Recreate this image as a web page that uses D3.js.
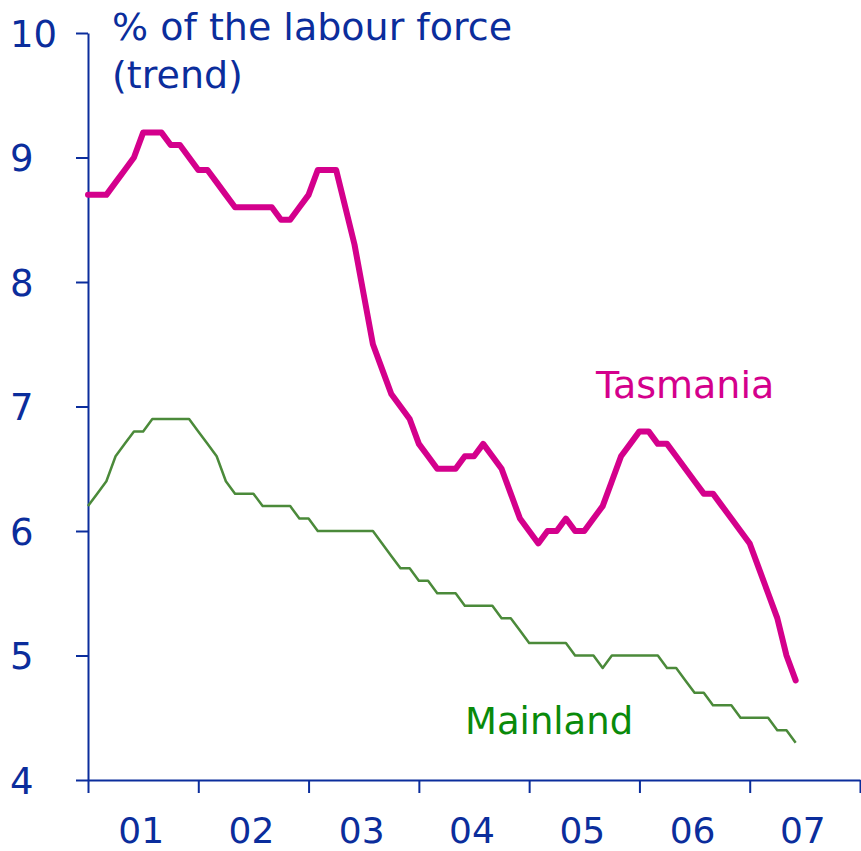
<!DOCTYPE html>
<html>
<head>
<meta charset="utf-8">
<script src="https://cdn.jsdelivr.net/npm/d3@7"></script>
<style>
  body { margin: 0; background: #fff; }
  svg { display: block; font-family: "DejaVu Sans", Verdana, sans-serif; }
</style>
</head>
<body>
<div id="box"></div>
<script>
// monthly trend unemployment rate, Jan 2001 onwards
const startYear = 2001;
const tasmania = [
  8.7, 8.7, 8.7, 8.8, 8.9, 9.0, 9.2, 9.2, 9.2, 9.1, 9.1, 9.0,
  8.9, 8.9, 8.8, 8.7, 8.6, 8.6, 8.6, 8.6, 8.6, 8.5, 8.5, 8.6,
  8.7, 8.9, 8.9, 8.9, 8.6, 8.3, 7.9, 7.5, 7.3, 7.1, 7.0, 6.9,
  6.7, 6.6, 6.5, 6.5, 6.5, 6.6, 6.6, 6.7, 6.6, 6.5, 6.3, 6.1,
  6.0, 5.9, 6.0, 6.0, 6.1, 6.0, 6.0, 6.1, 6.2, 6.4, 6.6, 6.7,
  6.8, 6.8, 6.7, 6.7, 6.6, 6.5, 6.4, 6.3, 6.3, 6.2, 6.1, 6.0,
  5.9, 5.7, 5.5, 5.3, 5.0, 4.8
];
const mainland = [
  6.2, 6.3, 6.4, 6.6, 6.7, 6.8, 6.8, 6.9, 6.9, 6.9, 6.9, 6.9,
  6.8, 6.7, 6.6, 6.4, 6.3, 6.3, 6.3, 6.2, 6.2, 6.2, 6.2, 6.1,
  6.1, 6.0, 6.0, 6.0, 6.0, 6.0, 6.0, 6.0, 5.9, 5.8, 5.7, 5.7,
  5.6, 5.6, 5.5, 5.5, 5.5, 5.4, 5.4, 5.4, 5.4, 5.3, 5.3, 5.2,
  5.1, 5.1, 5.1, 5.1, 5.1, 5.0, 5.0, 5.0, 4.9, 5.0, 5.0, 5.0,
  5.0, 5.0, 5.0, 4.9, 4.9, 4.8, 4.7, 4.7, 4.6, 4.6, 4.6, 4.5,
  4.5, 4.5, 4.5, 4.4, 4.4, 4.3
];
const yTicks = [4, 5, 6, 7, 8, 9, 10];
const yearTicks = [2001, 2002, 2003, 2004, 2005, 2006, 2007, 2008];
const yearLabels = ['01', '02', '03', '04', '05', '06', '07'];

const width = 861;
const height = 851;
const blue = '#0b2d9c';

const svg = d3.select('#box').append('svg')
  .attr('width', width)
  .attr('height', height);

const x = d3.scaleLinear().domain([2001, 2008]).range([88, 860]);
const y = d3.scaleLinear().domain([4, 10]).range([780, 33]);

const line = d3.line()
  .x((d, i) => x(startYear + i / 12))
  .y(d => y(d));

// y axis
const yAxis = svg.append('g')
  .attr('transform', `translate(${x(2001)},0)`)
  .call(d3.axisLeft(y).tickValues(yTicks).tickSize(12).tickSizeOuter(0).tickFormat(d3.format('d')));
yAxis.selectAll('path, line').attr('stroke', blue).attr('stroke-width', 2);
yAxis.selectAll('text')
  .attr('x', -78)
  .attr('dy', '0.36em')
  .attr('text-anchor', 'start')
  .attr('fill', blue)
  .style('font-size', '37px')
  .style('font-family', '"DejaVu Sans", Verdana, sans-serif');

// x axis
const xAxis = svg.append('g')
  .attr('transform', `translate(0,${y(4)})`)
  .call(d3.axisBottom(x).tickValues(yearTicks).tickSize(13).tickSizeOuter(0).tickFormat(''));
xAxis.selectAll('path, line').attr('stroke', blue).attr('stroke-width', 2);

svg.append('g').selectAll('text').data(yearLabels)
  .join('text')
  .attr('x', (d, i) => x(yearTicks[i] + 0.5) - 2)
  .attr('y', 843)
  .attr('text-anchor', 'middle')
  .attr('fill', blue)
  .style('font-size', '36px')
  .text(d => d);

// lines
svg.append('path')
  .datum(mainland)
  .attr('d', line)
  .attr('fill', 'none')
  .attr('stroke', '#4b8a3a')
  .attr('stroke-width', 2.5)
  .attr('stroke-linejoin', 'round');

svg.append('path')
  .datum(tasmania)
  .attr('d', line)
  .attr('fill', 'none')
  .attr('stroke', '#d4008c')
  .attr('stroke-width', 6)
  .attr('stroke-linejoin', 'round')
  .attr('stroke-linecap', 'round');

// titles and series labels
const title = svg.append('text')
  .attr('fill', blue)
  .style('font-size', '38px');
title.append('tspan').attr('x', 112).attr('y', 40).text('% of the labour force');
title.append('tspan').attr('x', 112).attr('y', 88).text('(trend)');

svg.append('text')
  .attr('x', 596)
  .attr('y', 398)
  .attr('fill', '#d4008c')
  .style('font-size', '38px')
  .text('Tasmania');

svg.append('text')
  .attr('x', 465)
  .attr('y', 734)
  .attr('fill', '#0a8a0a')
  .style('font-size', '37px')
  .text('Mainland');
</script>
</body>
</html>
